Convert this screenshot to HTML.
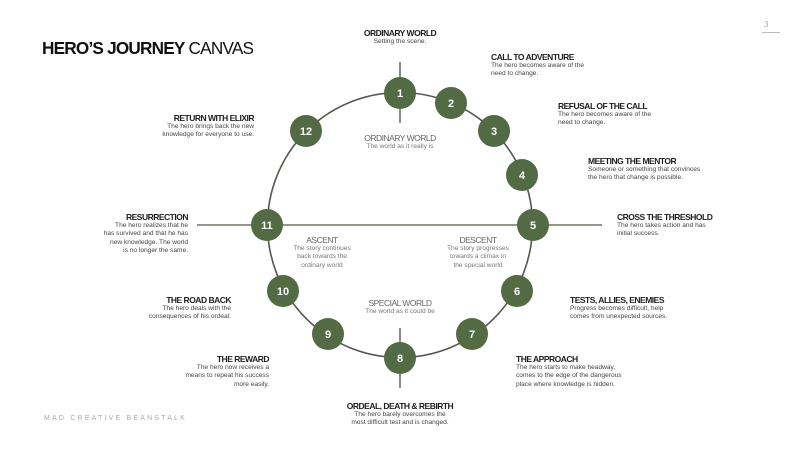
<!DOCTYPE html>
<html><head><meta charset="utf-8"><style>
html,body{margin:0;padding:0;background:#fff}
body{width:800px;height:450px;position:relative;overflow:hidden;font-family:"Liberation Sans",sans-serif;color:#222}
.t{position:absolute;line-height:1.2}
.h{font-size:8.5px;font-weight:bold;letter-spacing:-0.5px;color:#1e1e1e;white-space:nowrap}
.b{font-size:6.6px;color:#444;line-height:8.3px}
.r{text-align:right}.c{text-align:center}
.g .h{font-weight:normal;color:#666;font-size:8.5px}
.g .b{color:#777}
</style></head><body>
<svg width="800" height="450" style="position:absolute;left:0;top:0">
<circle cx="400" cy="225" r="132.5" fill="none" stroke="#55584f" stroke-width="1.6"/>
<line x1="197" y1="225" x2="602" y2="225" stroke="#6f7765" stroke-width="1.6"/>
<line x1="400" y1="62" x2="400" y2="123" stroke="#6f6f6a" stroke-width="1.6"/>
<line x1="400" y1="328" x2="400" y2="388" stroke="#6f6f6a" stroke-width="1.6"/>
<line x1="762" y1="32.5" x2="780" y2="32.5" stroke="#bbb" stroke-width="1"/>
<g fill="#526b44">
<circle cx="400" cy="93" r="16"/><circle cx="451" cy="103" r="16"/><circle cx="494" cy="131" r="16"/>
<circle cx="522" cy="175" r="16"/><circle cx="533" cy="225" r="16"/><circle cx="517" cy="291" r="16"/>
<circle cx="472" cy="334" r="16"/><circle cx="400" cy="358" r="16"/><circle cx="328" cy="334" r="16"/>
<circle cx="283" cy="291" r="16"/><circle cx="267" cy="225" r="16"/><circle cx="306" cy="131" r="16"/>
</g>
<g fill="#fff" font-family="Liberation Sans, sans-serif" font-size="11" font-weight="bold" text-anchor="middle">
<text x="400" y="97">1</text><text x="451" y="107">2</text><text x="494" y="135">3</text>
<text x="522" y="179">4</text><text x="533" y="229">5</text><text x="517" y="295">6</text>
<text x="472" y="338">7</text><text x="400" y="362">8</text><text x="328" y="338">9</text>
<text x="283" y="295">10</text><text x="267" y="229">11</text><text x="306" y="135">12</text>
</g>
</svg>
<div class="t" style="left:42px;top:38px;font-size:17.2px;letter-spacing:-0.8px;color:#111"><b>HERO’S JOURNEY</b> CANVAS</div>
<div class="t" style="left:764px;top:20px;font-size:8px;color:#aaa">3</div>
<div class="t" style="left:44px;top:415px;font-size:7px;letter-spacing:2.2px;color:#aaa">MAD CREATIVE BEANSTALK</div>

<div class="t c" style="left:330px;top:28px;width:140px"><div class="h">ORDINARY WORLD</div><div class="b">Setting the scene.</div></div>
<div class="t" style="left:491px;top:52px"><div class="h">CALL TO ADVENTURE</div><div class="b">The hero becomes aware of the<br>need to change.</div></div>
<div class="t" style="left:558px;top:101px"><div class="h">REFUSAL OF THE CALL</div><div class="b">The hero becomes aware of the<br>need to change.</div></div>
<div class="t" style="left:588px;top:156px"><div class="h">MEETING THE MENTOR</div><div class="b">Someone or something that convinces<br>the hero that change is possible.</div></div>
<div class="t" style="left:617px;top:212px"><div class="h">CROSS THE THRESHOLD</div><div class="b">The hero takes action and has<br>initial success.</div></div>
<div class="t" style="left:570px;top:295px"><div class="h">TESTS, ALLIES, ENEMIES</div><div class="b">Progress becomes difficult, help<br>comes from unexpected sources.</div></div>
<div class="t" style="left:516px;top:354px"><div class="h">THE APPROACH</div><div class="b">The hero starts to make headway,<br>comes to the edge of the dangerous<br>place where knowledge is hidden.</div></div>
<div class="t c" style="left:320px;top:401px;width:160px"><div class="h">ORDEAL, DEATH &amp; REBIRTH</div><div class="b">The hero barely overcomes the<br>most difficult test and is changed.</div></div>
<div class="t r" style="left:130px;top:354px;width:139px"><div class="h">THE REWARD</div><div class="b">The hero now receives a<br>means to repeat his success<br>more easily.</div></div>
<div class="t r" style="left:100px;top:295px;width:131px"><div class="h">THE ROAD BACK</div><div class="b">The hero deals with the<br>consequences of his ordeal.</div></div>
<div class="t r" style="left:60px;top:212px;width:128px"><div class="h">RESURRECTION</div><div class="b">The hero realizes that he<br>has survived and that he has<br>new knowledge. The world<br>is no longer the same.</div></div>
<div class="t r" style="left:120px;top:113px;width:134px"><div class="h">RETURN WITH ELIXIR</div><div class="b">The hero brings back the new<br>knowledge for everyone to use.</div></div>

<div class="t c g" style="left:340px;top:133px;width:120px"><div class="h">ORDINARY WORLD</div><div class="b">The world as it really is</div></div>
<div class="t c g" style="left:340px;top:298px;width:120px"><div class="h">SPECIAL WORLD</div><div class="b">The world as it could be</div></div>
<div class="t c g" style="left:282px;top:235px;width:80px"><div class="h">ASCENT</div><div class="b">The story continues<br>back towards the<br>ordinary world</div></div>
<div class="t c g" style="left:438px;top:235px;width:80px"><div class="h">DESCENT</div><div class="b">The story progresses<br>towards a climax in<br>the special world</div></div>
</body></html>
